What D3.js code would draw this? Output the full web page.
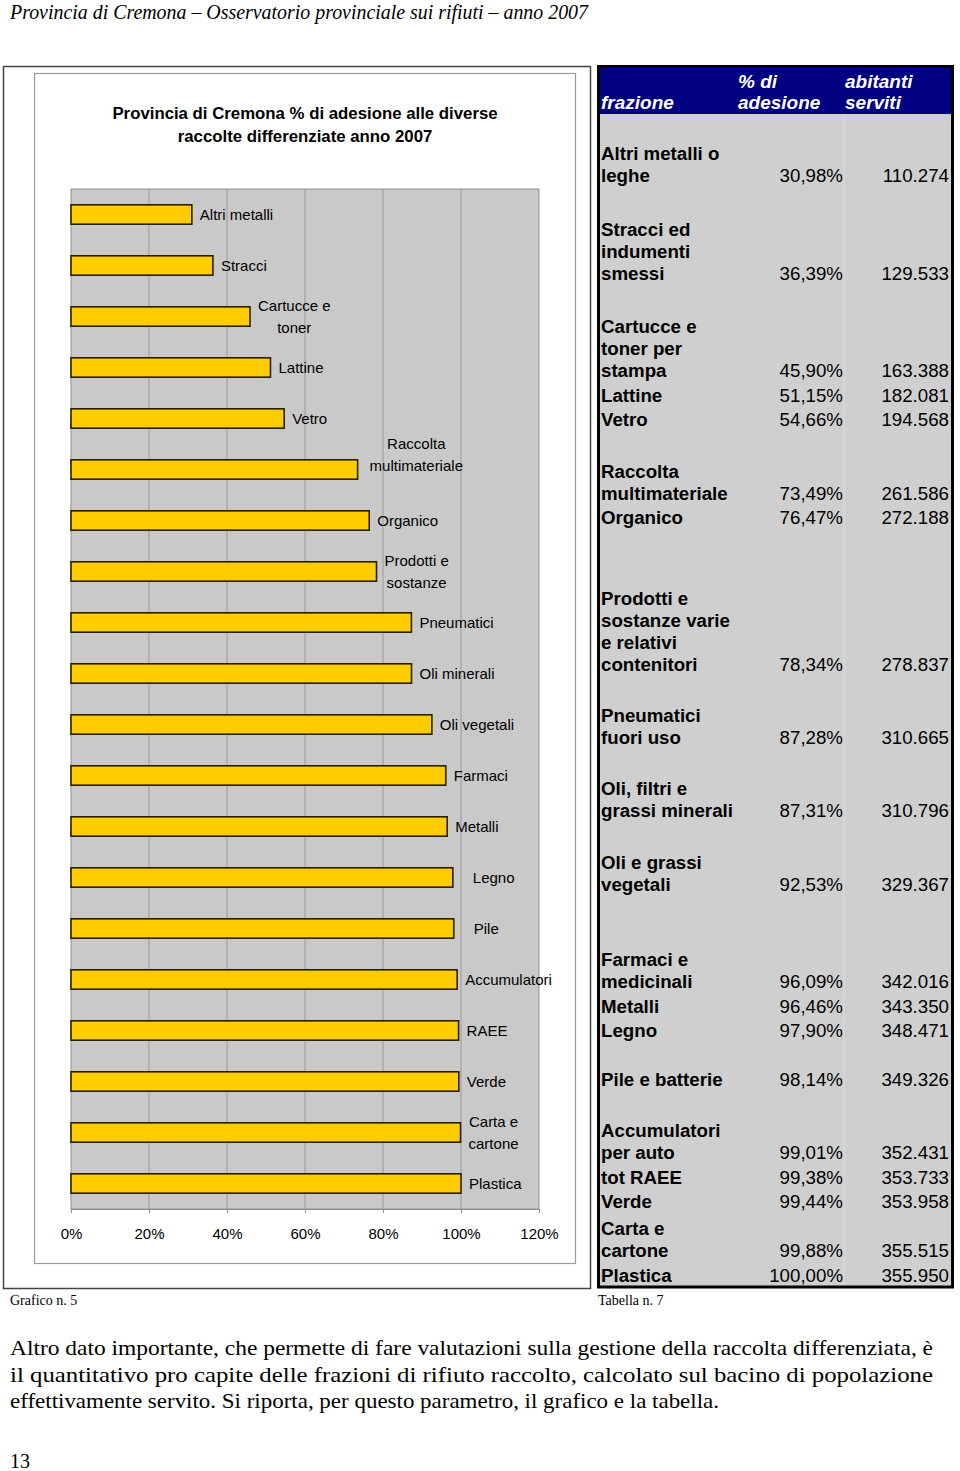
<!DOCTYPE html>
<html><head><meta charset="utf-8">
<script src="https://cdn.jsdelivr.net/npm/d3@7"></script>
<style>body{margin:0;background:#fff}</style>
</head><body>
<svg id="c" width="960" height="1471" xmlns="http://www.w3.org/2000/svg"></svg>
<script>
// ---------------- DATA ----------------
const categories = ["Altri metalli","Stracci","Cartucce e\ntoner","Lattine","Vetro","Raccolta\nmultimateriale","Organico","Prodotti e\nsostanze","Pneumatici","Oli minerali","Oli vegetali","Farmaci","Metalli","Legno","Pile","Accumulatori","RAEE","Verde","Carta e\ncartone","Plastica"];
const adesione = [30.98,36.39,45.90,51.15,54.66,73.49,76.47,78.34,87.28,87.31,92.53,96.09,96.46,97.90,98.14,99.01,99.38,99.44,99.88,100.00];
const xTicks = [0,20,40,60,80,100,120];
const frazioni = ["Altri metalli o\nleghe","Stracci ed\nindumenti\nsmessi","Cartucce e\ntoner per\nstampa","Lattine","Vetro","Raccolta\nmultimateriale","Organico","Prodotti e\nsostanze varie\ne relativi\ncontenitori","Pneumatici\nfuori uso","Oli, filtri e\ngrassi minerali","Oli e grassi\nvegetali","Farmaci e\nmedicinali","Metalli","Legno","Pile e batterie","Accumulatori\nper auto","tot RAEE","Verde","Carta e\ncartone","Plastica"];
const abitanti = [110274,129533,163388,182081,194568,261586,272188,278837,310665,310796,329367,342016,343350,348471,349326,352431,353733,353958,355515,355950];
const tableHeaders = ["frazione","% di\nadesione","abitanti\nserviti"];
const chartTitle = ["Provincia di Cremona % di adesione alle diverse","raccolte differenziate anno 2007"];
const pageHeader = "Provincia di Cremona – Osservatorio provinciale sui rifiuti – anno 2007";
const paragraph = ["Altro dato importante, che permette di fare valutazioni sulla gestione della raccolta differenziata, è","il quantitativo pro capite delle frazioni di rifiuto raccolto, calcolato sul bacino di popolazione","effettivamente servito. Si riporta, per questo parametro, il grafico e la tabella."];

// ---------------- DRAW ----------------
const svg = d3.select("#c");
const SANS = "'Liberation Sans', Arial, sans-serif";
const SERIF = "'Liberation Serif', 'Times New Roman', serif";
const itLocale = d3.formatLocale({decimal:",", thousands:".", grouping:[3], currency:["","€"]});
const fmtPct = v => itLocale.format(".2f")(v) + "%";
const fmtInt = itLocale.format(",d");

svg.append("rect").attr("width",960).attr("height",1471).attr("fill","#fff");

// page header
svg.append("text").attr("x",10).attr("y",19).attr("font-family",SERIF).attr("font-style","italic")
  .attr("font-size",21).attr("textLength",578).attr("lengthAdjust","spacingAndGlyphs").text(pageHeader);

// outer frame
svg.append("rect").attr("x",3.5).attr("y",66.5).attr("width",587).attr("height",1222)
  .attr("fill","none").attr("stroke","#444").attr("stroke-width",1.5);
// chart area box
svg.append("rect").attr("x",34.5).attr("y",73.5).attr("width",541).attr("height",1190)
  .attr("fill","#fff").attr("stroke","#9a9a9a").attr("stroke-width",1.2);

// title
svg.append("g").selectAll("text").data(chartTitle).join("text")
  .attr("x",305).attr("y",(d,i)=>119+i*23).attr("text-anchor","middle")
  .attr("font-family",SANS).attr("font-weight","bold").attr("font-size",16.8).text(d=>d);

// scales
const x = d3.scaleLinear().domain([0,120]).range([71,539]);
const y = d3.scaleBand().domain(categories).range([189,1209]).paddingInner(0.62).paddingOuter(0.31);

// plot background
svg.append("rect").attr("x",x(0)).attr("y",189).attr("width",x(120)-x(0)).attr("height",1020)
  .attr("fill","#C9C9C9").attr("stroke","#8f8f8f").attr("stroke-width",1);
// gridlines
svg.append("g").selectAll("line").data(xTicks.slice(1,-1)).join("line")
  .attr("x1",d=>x(d)).attr("x2",d=>x(d)).attr("y1",189).attr("y2",1209)
  .attr("stroke","#9a9a9a").attr("stroke-width",1);

// axis
const axis = d3.axisBottom(x).tickValues(xTicks).tickFormat(d=>d+"%").tickSizeInner(4).tickSizeOuter(0).tickPadding(15);
const ag = svg.append("g").attr("transform","translate(0,1209)").call(axis);
ag.select(".domain").attr("stroke","#8f8f8f");
ag.selectAll(".tick line").attr("stroke","#8f8f8f");
ag.selectAll(".tick text").attr("font-family",SANS).attr("font-size",15).attr("fill","#000");

// bars
svg.append("g").selectAll("rect").data(categories).join("rect")
  .attr("x",x(0)).attr("y",d=>y(d)).attr("height",y.bandwidth())
  .attr("width",(d,i)=>x(adesione[i])-x(0))
  .attr("fill","#FFCC00").attr("stroke","#2a2000").attr("stroke-width",1.6);

// labels (layout offsets for a few labels placed as in the original)
const labelShift = {"Raccolta\nmultimateriale":[4,-15], "Legno":[12,0], "Pile":[12,0]};
const lg = svg.append("g").attr("font-family",SANS).attr("font-size",15).attr("fill","#000");
categories.forEach((c,i)=>{
  const lines = c.split("\n");
  const sh = labelShift[c] || [0,0];
  const x0 = x(adesione[i]) + 8 + sh[0];
  const t = lg.append("text").attr("x",x0).attr("y",y(c)+y.bandwidth()/2+sh[1]);
  const tmp = [];
  lines.forEach((ln,k)=>{
    tmp.push(t.append("tspan").attr("x",x0).attr("dy", k===0 ? ((-(lines.length-1)*22/2)+5.5) : 22).text(ln));
  });
  if(lines.length>1){
    const ws = tmp.map(s=>s.node().getComputedTextLength());
    const W = Math.max(...ws);
    tmp.forEach((s,k)=>s.attr("x",x0+(W-ws[k])/2));
  }
});

// ---------------- TABLE ----------------
const rowSpan = [3,4,4,1,1,3,1,6,3,3,3,4,1,1,2,3,1,1,2,1];
const tTop = 66.5, tLeft = 598.5, tRight = 952.5, hBottom = 114, tBottom = 1287;
const unit = (tBottom - hBottom)/d3.sum(rowSpan);
svg.append("rect").attr("x",tLeft).attr("y",tTop).attr("width",tRight-tLeft).attr("height",tBottom-tTop)
  .attr("fill","#CFCFCF");
svg.append("rect").attr("x",tLeft).attr("y",tTop).attr("width",tRight-tLeft).attr("height",hBottom-tTop)
  .attr("fill","#000080");
svg.append("line").attr("x1",844).attr("x2",844).attr("y1",hBottom).attr("y2",tBottom)
  .attr("stroke","#dcdcdc").attr("stroke-width",1);
svg.append("rect").attr("x",tLeft).attr("y",tTop).attr("width",tRight-tLeft).attr("height",tBottom-tTop)
  .attr("fill","none").attr("stroke","#000").attr("stroke-width",3);

// header text
const hx = [601,738,845];
const hg = svg.append("g").attr("font-family",SANS).attr("font-weight","bold").attr("font-style","italic")
  .attr("font-size",19).attr("fill","#fff");
tableHeaders.forEach((h,j)=>{
  const lines = h.split("\n");
  lines.forEach((ln,k)=>{
    hg.append("text").attr("x",hx[j]).attr("y",109-(lines.length-1-k)*21).text(ln);
  });
});

// body
const bg = svg.append("g").attr("font-family",SANS).attr("font-size",18.7).attr("fill","#000");
let cum = 0;
frazioni.forEach((f,i)=>{
  cum += rowSpan[i];
  const base = hBottom + cum*unit - 5.5;
  const lines = f.split("\n");
  lines.forEach((ln,k)=>{
    bg.append("text").attr("x",601).attr("y",base-(lines.length-1-k)*22).attr("font-weight","bold").text(ln);
  });
  bg.append("text").attr("x",843).attr("y",base).attr("text-anchor","end").text(fmtPct(adesione[i]));
  bg.append("text").attr("x",949).attr("y",base).attr("text-anchor","end").text(fmtInt(abitanti[i]));
});

// captions
svg.append("text").attr("x",10).attr("y",1305).attr("font-family",SERIF).attr("font-size",14).text("Grafico n. 5");
svg.append("text").attr("x",598).attr("y",1305).attr("font-family",SERIF).attr("font-size",14).text("Tabella n. 7");

// paragraph
const pw = [923,923,709];
svg.append("g").selectAll("text").data(paragraph).join("text")
  .attr("x",10).attr("y",(d,i)=>1355+i*26.5).attr("font-family",SERIF).attr("font-size",21)
  .attr("textLength",(d,i)=>pw[i]).attr("lengthAdjust","spacingAndGlyphs").text(d=>d);

svg.append("text").attr("x",10).attr("y",1468).attr("font-family",SERIF).attr("font-size",20).text("13");
</script>
</body></html>
